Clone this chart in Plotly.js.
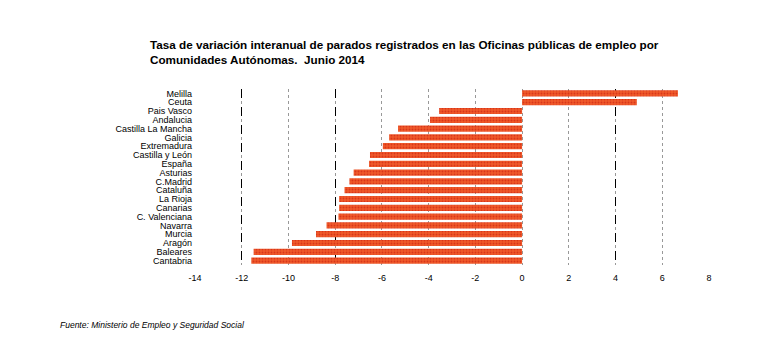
<!DOCTYPE html>
<html>
<head>
<meta charset="utf-8">
<script src="https://cdn.plot.ly/plotly-3.0.1.min.js"></script>
<style>body{margin:0;padding:0;background:#fff}#chart{width:759px;height:363px}</style>
</head>
<body>
<div id="chart"></div>
<script>
const regiones = ["Melilla","Ceuta","Pais Vasco","Andalucia","Castilla La Mancha","Galicia","Extremadura","Castilla y León","España","Asturias","C.Madrid","Cataluña","La Rioja","Canarias","C. Valenciana","Navarra","Murcia","Aragón","Baleares","Cantabria"];
const variacion = [6.67,4.91,-3.55,-3.94,-5.31,-5.69,-5.96,-6.51,-6.55,-7.21,-7.39,-7.60,-7.83,-7.83,-7.86,-8.37,-8.82,-9.85,-11.49,-11.59];
const xTicks = [-14,-12,-10,-8,-6,-4,-2,0,2,4,6,8];
const darkGridTicks = [-12,-8,4];

const data = [
  {type:'bar', orientation:'h', y:regiones, x:variacion,
   marker:{color:'#EC4D22', line:{width:0}, pattern:{shape:'.', fgcolor:'#D9361A', bgcolor:'#F05A2A', size:3, solidity:0.3}},
   hoverinfo:'skip'},
  {type:'scatter', mode:'markers', x:[darkGridTicks[0]], y:[regiones[0]], xaxis:'x2', marker:{opacity:0}, hoverinfo:'skip', showlegend:false}
];
const layout = {
  width:759, height:363,
  margin:{l:195, r:50, t:89, b:98},
  paper_bgcolor:'#fff', plot_bgcolor:'rgba(0,0,0,0)',
  showlegend:false,
  bargap:0.3,
  title:{text:'<b>Tasa de variación interanual de parados registrados en las Oficinas públicas de empleo por<br>Comunidades Autónomas.  Junio 2014</b>',
    x:150/759, xref:'container', xanchor:'left', y:(363-49)/363, yref:'container', yanchor:'top',
    font:{family:'Liberation Sans, Arial, sans-serif', size:11.7, color:'#000'}},
  xaxis:{range:[-14,8], tickvals:xTicks, ticktext:xTicks.map(String),
    showgrid:true, gridcolor:'#999', griddash:'dot', gridwidth:1, zeroline:false,
    showline:false, ticks:'', ticklabelstandoff:6, tickfont:{family:'Liberation Sans, Arial, sans-serif', size:9, color:'#000'}},
  xaxis2:{overlaying:'x', range:[-14,8], tickvals:darkGridTicks, showticklabels:false,
    showgrid:true, gridcolor:'#000', griddash:'dash', gridwidth:1, zeroline:false, showline:false, ticks:''},
  yaxis:{type:'category', range:[regiones.length-0.5, -0.5], tickmode:'array', tickvals:regiones, ticktext:regiones,
    showgrid:false, zeroline:false, showline:false, ticks:'',
    tickfont:{family:'Liberation Sans, Arial, sans-serif', size:9, color:'#000'}, ticklabelstandoff:2},
  annotations:[{text:'<i>Fuente: Ministerio de Empleo y Seguridad Social</i>', xref:'paper', yref:'paper', x:-137/514, y:-60/176,
    xanchor:'left', yanchor:'middle', showarrow:false, font:{family:'Liberation Sans, Arial, sans-serif', size:8.5, color:'#000'}}]
};
Plotly.newPlot('chart', data, layout, {displayModeBar:false, staticPlot:true});
</script>
</body>
</html>
